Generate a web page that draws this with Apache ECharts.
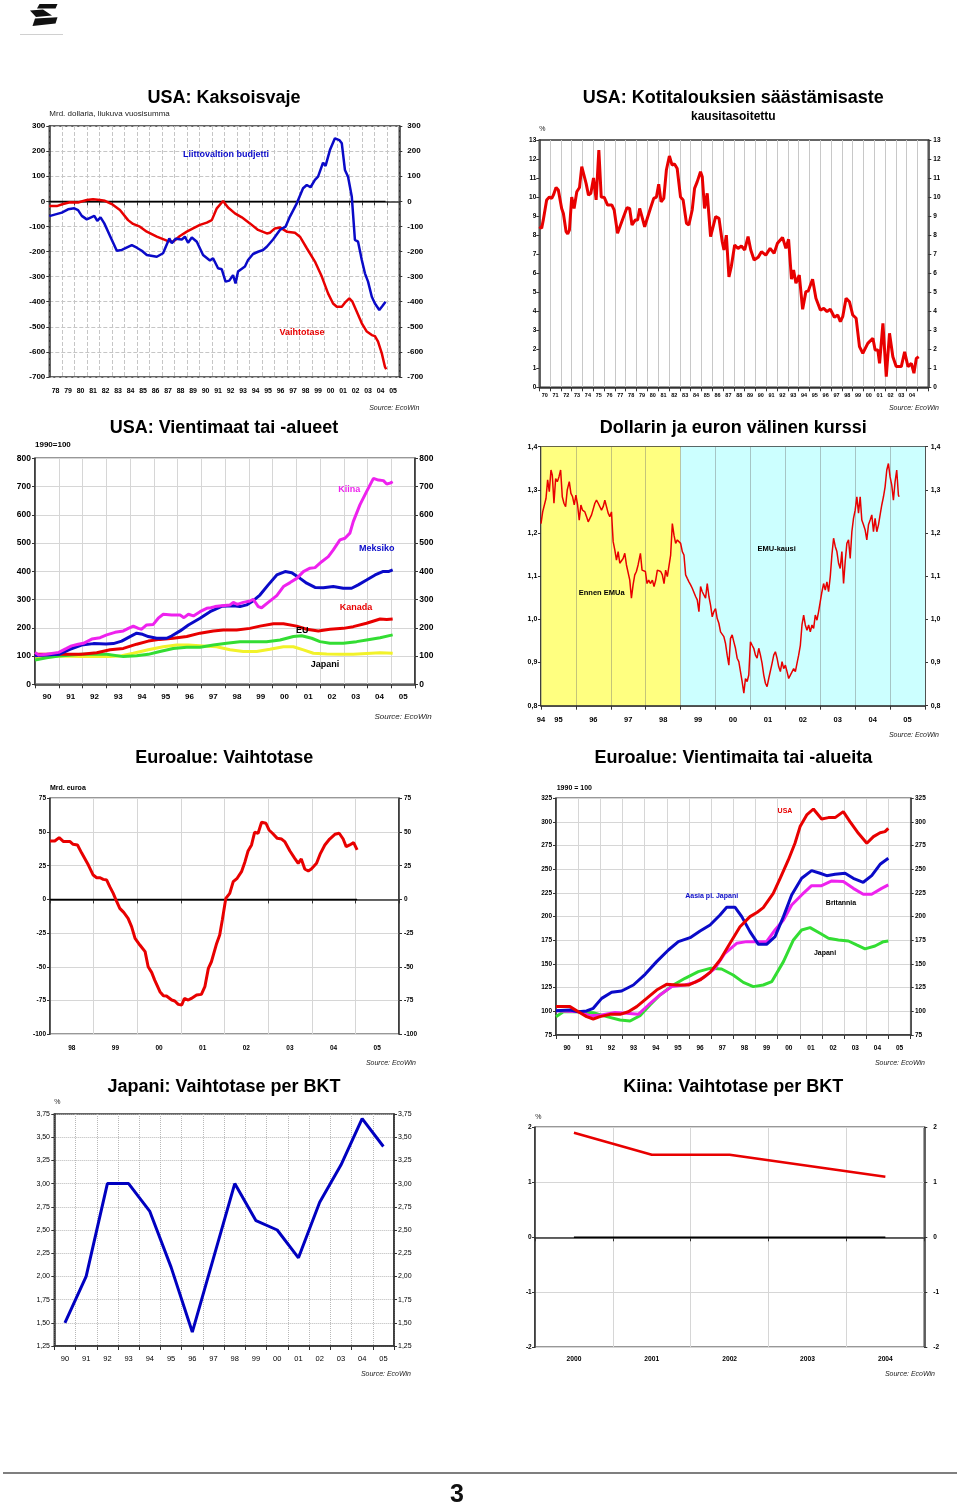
<!DOCTYPE html>
<html><head><meta charset="utf-8">
<script src="https://cdn.jsdelivr.net/npm/echarts@6/dist/echarts.min.js"></script>
<style>html,body{margin:0;padding:0;background:#fff}#c{width:960px;height:1508px}</style>
</head><body><div id="c"></div>
<script>
// ---------- DATA ----------
// Chart 1: USA: Kaksoisvaje (Mrd. USD)
const kaksXLabels = ['78','79','80','81','82','83','84','85','86','87','88','89','90','91','92','93','94','95','96','97','98','99','00','01','02','03','04','05'];
const usaBudget = [[1978.0,-59],[1979.0,-45],[1979.5,-32],[1980.0,-28],[1980.3,-35],[1980.6,-58],[1981.0,-72],[1981.6,-58],[1981.84,-78],[1982.1,-64],[1982.4,-88],[1982.85,-137],[1983.4,-197],[1983.8,-194],[1984.6,-175],[1985.0,-185],[1985.4,-197],[1985.8,-214],[1986.6,-221],[1987.1,-207],[1987.6,-148],[1987.8,-167],[1988.1,-149],[1988.6,-152],[1988.85,-141],[1989.1,-165],[1989.4,-144],[1989.8,-161],[1990.3,-214],[1990.85,-236],[1991.1,-227],[1991.5,-267],[1991.8,-271],[1992.1,-320],[1992.4,-316],[1992.7,-294],[1992.9,-327],[1993.1,-280],[1993.65,-260],[1993.9,-234],[1994.3,-210],[1994.7,-201],[1995.1,-194],[1995.4,-181],[1995.9,-152],[1996.45,-114],[1996.9,-101],[1997.25,-61],[1997.8,-8],[1998.3,52],[1998.6,65],[1998.9,56],[1999.25,85],[1999.5,98],[1999.9,154],[2000.1,141],[2000.45,204],[2000.85,251],[2001.2,244],[2001.4,231],[2001.65,125],[2001.9,98],[2002.2,18],[2002.45,-154],[2002.7,-161],[2003.0,-234],[2003.25,-287],[2003.5,-320],[2003.8,-380],[2004.05,-407],[2004.4,-433],[2004.65,-417],[2004.9,-400]];
const usaCurrentAccount = [[1978.0,-19],[1978.6,-19],[1979.1,-11],[1979.65,-4],[1980.3,-5],[1981.0,5],[1981.5,8],[1982.05,5],[1982.45,2],[1983.0,-11],[1983.65,-35],[1984.3,-75],[1984.7,-90],[1985.25,-101],[1985.8,-121],[1986.6,-141],[1987.4,-157],[1987.9,-161],[1988.45,-138],[1989.0,-121],[1989.5,-108],[1990.05,-94],[1990.6,-85],[1991.0,-75],[1991.4,-28],[1991.9,1],[1992.3,-25],[1992.85,-48],[1993.4,-64],[1994.05,-88],[1994.7,-114],[1995.4,-128],[1995.65,-125],[1996.05,-108],[1996.45,-104],[1997.0,-121],[1997.65,-125],[1998.05,-141],[1998.6,-187],[1999.25,-240],[1999.8,-300],[2000.3,-367],[2000.7,-407],[2001.0,-420],[2001.4,-420],[2001.65,-404],[2002.0,-387],[2002.25,-400],[2002.6,-440],[2003.0,-486],[2003.4,-519],[2003.8,-533],[2004.05,-537],[2004.3,-559],[2004.6,-606],[2004.85,-659],[2004.95,-669]];
const kaksZero = [[1978.0,0],[2004.9,0]];

// Chart 2: USA: Kotitalouksien säästämisaste (%)
const savXLabels = ['70','71','72','73','74','75','76','77','78','79','80','81','82','83','84','85','86','87','88','89','90','91','92','93','94','95','96','97','98','99','00','01','02','03','04',''];
const usaSavings = [[1970.00,8.44],[1970.22,8.36],[1970.37,8.8],[1970.68,9.85],[1970.93,10.0],[1971.15,9.93],[1971.30,10.1],[1971.55,10.5],[1971.76,10.37],[1972.07,9.4],[1972.23,9.14],[1972.48,8.18],[1972.63,8.06],[1972.79,8.27],[1973.00,10.0],[1973.22,9.4],[1973.47,10.28],[1973.72,10.5],[1973.93,11.6],[1974.09,11.68],[1974.33,10.72],[1974.55,10.1],[1974.77,10.2],[1975.02,11.0],[1975.26,9.85],[1975.51,12.47],[1975.73,10.0],[1976.01,9.98],[1976.32,9.58],[1976.72,9.58],[1976.93,9.32],[1977.24,8.1],[1977.40,8.18],[1977.80,8.97],[1978.11,9.44],[1978.36,9.4],[1978.58,8.53],[1978.89,8.8],[1979.10,8.8],[1979.29,9.4],[1979.50,8.97],[1979.75,8.44],[1980.28,9.4],[1980.59,9.93],[1980.84,10.0],[1981.05,10.67],[1981.27,9.75],[1981.52,9.93],[1981.76,11.42],[1982.04,12.16],[1982.29,11.68],[1982.51,11.74],[1982.76,11.5],[1983.07,10.0],[1983.31,9.85],[1983.62,8.62],[1983.84,8.53],[1984.15,9.32],[1984.37,10.46],[1984.61,10.8],[1984.92,11.33],[1985.08,11.07],[1985.29,9.4],[1985.54,10.2],[1985.85,7.92],[1986.01,8.27],[1986.32,8.97],[1986.63,8.88],[1986.93,7.65],[1987.09,7.22],[1987.31,8.0],[1987.55,5.8],[1987.77,6.35],[1988.08,7.48],[1988.39,7.3],[1988.70,7.43],[1989.01,7.22],[1989.32,7.92],[1989.57,7.22],[1989.88,6.69],[1990.25,6.83],[1990.56,7.13],[1990.96,6.95],[1991.36,7.3],[1991.73,7.04],[1992.04,7.57],[1992.51,7.88],[1992.82,7.3],[1993.07,7.78],[1993.34,5.68],[1993.53,6.17],[1993.75,5.47],[1994.06,5.9],[1994.37,4.1],[1994.67,5.03],[1994.89,5.06],[1995.29,5.68],[1995.60,4.68],[1996.01,4.06],[1996.32,4.15],[1996.63,3.98],[1996.93,4.1],[1997.31,3.68],[1997.62,3.8],[1997.86,3.45],[1998.08,3.71],[1998.39,4.68],[1998.70,4.5],[1999.01,3.8],[1999.32,3.63],[1999.63,2.14],[1999.94,1.79],[2000.40,2.31],[2000.87,2.58],[2001.08,1.96],[2001.33,1.96],[2001.49,1.26],[2001.80,3.36],[2002.11,0.56],[2002.41,2.84],[2002.72,1.61],[2003.03,1.09],[2003.50,1.09],[2003.81,1.87],[2004.12,1.09],[2004.43,1.26],[2004.67,0.74],[2004.89,1.52],[2005.11,1.61]];

// Chart 3: USA: Vientimaat tai -alueet (1990=100)
const yrs90 = ['90','91','92','93','94','95','96','97','98','99','00','01','02','03','04','05'];
const expChina = [[1990.0,113],[1990.14,104],[1990.49,106],[1991.0,113],[1991.33,127],[1991.54,136],[1991.82,142],[1992.04,145],[1992.39,160],[1992.74,165],[1993.02,175],[1993.37,184],[1993.72,189],[1993.93,198],[1994.14,206],[1994.35,198],[1994.49,195],[1994.70,210],[1994.98,212],[1995.19,234],[1995.40,248],[1995.75,245],[1996.11,245],[1996.27,236],[1996.46,248],[1996.67,242],[1996.95,257],[1997.23,269],[1997.40,271],[1997.58,275],[1997.86,278],[1998.21,281],[1998.35,290],[1998.52,283],[1998.77,290],[1999.05,295],[1999.19,301],[1999.40,275],[1999.54,271],[1999.82,290],[2000.18,314],[2000.46,346],[2000.74,360],[2001.02,375],[2001.30,399],[2001.58,411],[2001.79,413],[2002.07,434],[2002.35,452],[2002.56,476],[2002.84,511],[2003.05,517],[2003.26,535],[2003.40,576],[2003.68,635],[2003.96,682],[2004.25,729],[2004.46,723],[2004.67,721],[2004.81,709],[2004.95,712],[2005.06,717]];
const expMexico = [[1990.0,101],[1990.49,104],[1991.0,106],[1991.47,124],[1991.96,139],[1992.46,144],[1992.99,143],[1993.30,144],[1993.65,153],[1994.00,169],[1994.28,181],[1994.53,177],[1994.77,169],[1995.12,163],[1995.54,163],[1995.75,171],[1996.11,189],[1996.46,210],[1996.95,234],[1997.37,257],[1997.86,276],[1998.35,278],[1998.63,275],[1998.91,281],[1999.19,296],[1999.47,316],[1999.82,352],[2000.18,387],[2000.53,399],[2000.81,395],[2001.16,375],[2001.44,358],[2001.79,343],[2002.14,342],[2002.56,346],[2002.98,340],[2003.33,340],[2003.61,352],[2003.96,369],[2004.32,387],[2004.64,399],[2004.88,399],[2005.06,405]];
const expCanada = [[1990.0,106],[1991.0,106],[1991.96,106],[1992.6,112],[1993.16,122],[1993.72,127],[1994.28,142],[1994.77,153],[1995.26,159],[1995.82,163],[1996.39,169],[1996.95,181],[1997.51,189],[1997.93,192],[1998.49,192],[1999.05,198],[1999.47,206],[2000.04,214],[2000.46,214],[2001.02,206],[2001.44,195],[2001.93,189],[2002.42,195],[2002.98,198],[2003.40,204],[2003.96,216],[2004.53,231],[2004.81,229],[2005.06,231]];
const expEU = [[1990.0,86],[1990.49,94],[1991.0,100],[1991.96,106],[1993.02,106],[1993.72,98],[1994.28,101],[1994.77,106],[1995.26,116],[1995.82,127],[1996.39,131],[1996.95,131],[1997.51,139],[1998.07,145],[1998.63,151],[1999.19,151],[1999.75,151],[2000.32,157],[2000.88,169],[2001.23,172],[2001.65,163],[2002.0,151],[2002.42,145],[2002.98,145],[2003.54,151],[2003.96,157],[2004.53,165],[2005.06,175]];
const expJapan = [[1990.0,94],[1990.49,98],[1991.0,100],[1991.96,98],[1993.16,98],[1993.65,101],[1994.14,110],[1994.77,122],[1995.40,133],[1995.96,139],[1996.46,139],[1997.09,136],[1997.65,133],[1998.21,122],[1998.77,116],[1999.33,116],[1999.89,124],[2000.46,133],[2000.88,133],[2001.30,122],[2001.72,110],[2002.28,107],[2002.84,106],[2003.40,106],[2003.96,109],[2004.53,112],[2005.06,110]];

// Chart 4: Dollarin ja euron välinen kurssi
const fxXLabels = ['95','96','97','98','99','00','01','02','03','04','05'];
const fxRate = [[1995.000,1.222],[1995.048,1.249],[1995.095,1.246],[1995.143,1.280],[1995.190,1.323],[1995.238,1.296],[1995.286,1.346],[1995.324,1.334],[1995.371,1.269],[1995.419,1.326],[1995.467,1.319],[1995.514,1.330],[1995.562,1.346],[1995.610,1.284],[1995.657,1.269],[1995.705,1.261],[1995.752,1.300],[1995.810,1.319],[1995.857,1.292],[1995.905,1.284],[1995.952,1.265],[1996.000,1.288],[1996.048,1.265],[1996.095,1.230],[1996.143,1.265],[1996.190,1.253],[1996.257,1.249],[1996.305,1.238],[1996.352,1.226],[1996.400,1.230],[1996.448,1.242],[1996.495,1.246],[1996.543,1.269],[1996.590,1.276],[1996.638,1.269],[1996.686,1.265],[1996.733,1.253],[1996.781,1.261],[1996.829,1.276],[1996.876,1.280],[1996.924,1.246],[1996.971,1.238],[1997.019,1.249],[1997.067,1.180],[1997.114,1.161],[1997.162,1.137],[1997.210,1.157],[1997.257,1.130],[1997.305,1.134],[1997.352,1.141],[1997.400,1.153],[1997.448,1.126],[1997.495,1.130],[1997.543,1.091],[1997.590,1.049],[1997.638,1.080],[1997.686,1.103],[1997.733,1.111],[1997.781,1.126],[1997.848,1.153],[1997.895,1.114],[1997.943,1.111],[1997.990,1.111],[1998.038,1.083],[1998.086,1.091],[1998.133,1.083],[1998.190,1.091],[1998.238,1.076],[1998.286,1.091],[1998.333,1.114],[1998.381,1.118],[1998.429,1.111],[1998.476,1.103],[1998.524,1.083],[1998.571,1.114],[1998.619,1.099],[1998.667,1.095],[1998.714,1.149],[1998.762,1.222],[1998.810,1.195],[1998.857,1.176],[1998.905,1.184],[1998.952,1.188],[1999.000,1.176],[1999.048,1.157],[1999.095,1.149],[1999.143,1.103],[1999.190,1.095],[1999.238,1.087],[1999.286,1.080],[1999.333,1.072],[1999.381,1.068],[1999.429,1.053],[1999.476,1.045],[1999.524,1.018],[1999.571,1.076],[1999.619,1.064],[1999.667,1.068],[1999.714,1.049],[1999.762,1.083],[1999.810,1.053],[1999.857,1.033],[1999.905,1.006],[1999.952,1.018],[2000.000,1.025],[2000.048,1.002],[2000.095,0.991],[2000.143,0.971],[2000.190,0.971],[2000.238,0.960],[2000.286,0.944],[2000.333,0.917],[2000.381,0.894],[2000.429,0.956],[2000.476,0.964],[2000.524,0.948],[2000.571,0.933],[2000.619,0.910],[2000.667,0.902],[2000.714,0.879],[2000.762,0.856],[2000.810,0.829],[2000.857,0.863],[2000.905,0.856],[2000.952,0.871],[2001.000,0.948],[2001.048,0.940],[2001.095,0.933],[2001.143,0.917],[2001.190,0.910],[2001.238,0.933],[2001.286,0.917],[2001.333,0.898],[2001.381,0.871],[2001.429,0.852],[2001.476,0.844],[2001.524,0.863],[2001.571,0.860],[2001.619,0.898],[2001.667,0.917],[2001.714,0.925],[2001.762,0.910],[2001.810,0.890],[2001.857,0.879],[2001.905,0.902],[2001.952,0.886],[2002.000,0.894],[2002.048,0.879],[2002.095,0.863],[2002.143,0.871],[2002.190,0.867],[2002.238,0.886],[2002.286,0.879],[2002.333,0.898],[2002.381,0.917],[2002.429,0.940],[2002.476,0.987],[2002.524,1.010],[2002.571,0.987],[2002.619,0.975],[2002.667,0.987],[2002.714,0.971],[2002.762,0.987],[2002.810,0.979],[2002.857,1.010],[2002.905,0.998],[2002.952,1.018],[2003.000,1.041],[2003.048,1.064],[2003.095,1.083],[2003.143,1.068],[2003.190,1.087],[2003.238,1.064],[2003.286,1.099],[2003.333,1.149],[2003.381,1.188],[2003.429,1.169],[2003.476,1.157],[2003.524,1.130],[2003.571,1.118],[2003.619,1.157],[2003.667,1.083],[2003.714,1.134],[2003.762,1.176],[2003.810,1.184],[2003.857,1.141],[2003.905,1.203],[2003.952,1.234],[2004.000,1.253],[2004.048,1.284],[2004.095,1.246],[2004.143,1.284],[2004.190,1.230],[2004.238,1.219],[2004.286,1.207],[2004.333,1.184],[2004.381,1.219],[2004.429,1.230],[2004.476,1.242],[2004.524,1.203],[2004.571,1.234],[2004.619,1.203],[2004.667,1.219],[2004.714,1.242],[2004.762,1.265],[2004.810,1.284],[2004.857,1.307],[2004.905,1.346],[2004.952,1.361],[2005.000,1.330],[2005.048,1.311],[2005.095,1.276],[2005.143,1.319],[2005.190,1.346],[2005.238,1.288],[2005.257,1.284]];
const emuStart = 1999;

// Chart 5: Euroalue: Vaihtotase (Mrd. euroa)
const euXLabels = ['98','99','00','01','02','03','04','05'];
const euroCA = [[1998.00,43.3],[1998.11,43.3],[1998.21,45.8],[1998.31,42.9],[1998.46,42.9],[1998.53,40.9],[1998.63,40.4],[1998.73,34.2],[1998.88,25.5],[1998.99,18.1],[1999.07,16.1],[1999.15,16.1],[1999.22,14.9],[1999.30,14.4],[1999.37,9.5],[1999.45,4.5],[1999.53,-1.7],[1999.60,-6.6],[1999.69,-9.6],[1999.79,-14.0],[1999.87,-20.2],[1999.95,-28.9],[2000.06,-33.8],[2000.18,-38.7],[2000.25,-49.9],[2000.33,-54.1],[2000.40,-59.8],[2000.52,-68.4],[2000.60,-71.4],[2000.67,-71.6],[2000.79,-74.6],[2000.86,-75.3],[2000.94,-77.8],[2001.02,-78.3],[2001.08,-73.4],[2001.17,-74.6],[2001.24,-73.4],[2001.36,-70.9],[2001.47,-70.4],[2001.55,-64.7],[2001.63,-51.1],[2001.70,-46.2],[2001.82,-32.6],[2001.89,-26.4],[2001.95,-15.3],[2002.03,0.8],[2002.12,4.5],[2002.20,13.2],[2002.29,15.7],[2002.39,20.6],[2002.47,28.0],[2002.54,35.9],[2002.62,40.4],[2002.69,49.8],[2002.77,49.1],[2002.85,57.2],[2002.95,56.5],[2003.02,51.5],[2003.10,49.1],[2003.21,45.3],[2003.31,44.8],[2003.38,42.9],[2003.50,35.9],[2003.61,30.5],[2003.69,26.8],[2003.76,30.0],[2003.84,22.6],[2003.92,21.1],[2003.99,22.6],[2004.11,26.8],[2004.20,34.2],[2004.30,40.4],[2004.41,44.8],[2004.53,48.3],[2004.63,49.1],[2004.72,44.8],[2004.79,39.1],[2004.87,40.4],[2004.96,42.1],[2005.04,36.7]];
const euroZero = [[1998.0,0],[2005.04,0]];

// Chart 6: Euroalue: Vientimaita tai -alueita (1990 = 100)
const euExpUSA = [[1990.0,105],[1990.63,105],[1991.01,99.6],[1991.38,94.4],[1991.68,91.9],[1991.98,94.4],[1992.44,96.8],[1992.89,96.8],[1993.26,99.6],[1993.64,105],[1994.09,113.7],[1994.54,122.5],[1994.99,128.5],[1995.44,127.8],[1995.97,127.8],[1996.50,133.1],[1996.95,141.2],[1997.40,154.2],[1997.85,171.8],[1998.30,189.4],[1998.75,200],[1999.08,204.6],[1999.35,209.5],[1999.80,224.6],[2000.11,240.5],[2000.48,259.9],[2000.78,277.5],[2001.01,295.1],[2001.31,307.4],[2001.61,313.7],[2001.98,303.2],[2002.29,304.6],[2002.59,304.6],[2002.96,310.9],[2003.26,300.4],[2003.64,288.0],[2004.02,277.5],[2004.32,284.5],[2004.62,288.7],[2004.84,289.8],[2004.99,293.3]];
const euExpAsia = [[1990.0,100.7],[1990.63,101.4],[1991.01,99.6],[1991.38,100.4],[1991.68,103.2],[1992.06,113.7],[1992.51,120.1],[1992.96,121.5],[1993.49,127.8],[1994.02,139.1],[1994.54,152.5],[1995.07,164.8],[1995.52,173.6],[1996.05,177.8],[1996.50,184.9],[1996.95,191.2],[1997.40,201.8],[1997.70,209.9],[1998.08,209.9],[1998.38,200],[1998.75,184.2],[1999.13,170.8],[1999.50,170.8],[1999.88,178.9],[2000.26,200],[2000.63,222.9],[2001.08,240.5],[2001.53,248.6],[2001.91,245.8],[2002.21,243.3],[2002.59,244.7],[2003.04,245.8],[2003.41,240.5],[2003.86,236.3],[2004.24,243.3],[2004.62,255.3],[2004.99,261.6]];
const euExpUK = [[1990.0,100.7],[1991.01,99.6],[1991.53,95.4],[1992.06,96.1],[1992.66,98.9],[1993.19,97.9],[1993.71,96.8],[1994.17,106.7],[1994.69,117.3],[1995.22,126.1],[1995.82,127.8],[1996.27,130.6],[1996.72,136.6],[1997.17,145.4],[1997.62,161.3],[1998.15,171.8],[1998.60,173.6],[1999.05,173.6],[1999.50,173.6],[1999.88,185.9],[2000.26,196.5],[2000.63,212.3],[2001.08,222.9],[2001.53,232.7],[2001.98,232.7],[2002.44,237.7],[2002.96,237.0],[2003.41,229.9],[2003.86,223.6],[2004.24,223.6],[2004.69,229.9],[2004.99,233.5]];
const euExpJapan = [[1990.0,94.4],[1990.33,99.6],[1991.01,99.6],[1991.68,98.6],[1992.29,94.4],[1992.89,90.8],[1993.34,89.8],[1993.79,95.4],[1994.24,106.7],[1994.69,117.3],[1995.29,127.8],[1995.82,134.9],[1996.42,141.9],[1996.95,145.4],[1997.47,144.7],[1997.99,138.4],[1998.45,130.6],[1998.90,126.1],[1999.35,127.8],[1999.73,131.3],[2000.26,152.5],[2000.71,175.4],[2001.08,185.9],[2001.46,188.4],[2001.91,182.4],[2002.29,177.1],[2002.74,175.4],[2003.19,174.3],[2003.56,170.1],[2003.94,165.9],[2004.39,169.0],[2004.77,173.6],[2004.99,174.3]];

// Chart 7: Japani: Vaihtotase per BKT (%)
const japanCAgdp = [1.5,2.0,3.0,3.0,2.7,2.1,1.4,2.2,3.0,2.6,2.5,2.2,2.8,3.2,3.7,3.4];

// Chart 8: Kiina: Vaihtotase per BKT (%)
const chinaYears = ['2000','2001','2002','2003','2004'];
const chinaCAgdp = [1.9,1.5,1.5,1.3,1.1];
const chinaZero = [0,0,0,0,0];

// ---------- BUILD ----------
const FF = '"Liberation Sans", Arial, Helvetica, sans-serif';
const RED = '#e80000', BLUE = '#0a0ac8', MAG = '#ee22ee', GREEN = '#33dd33', YEL = '#f2f22a', BLK = '#000';
const grids = [], xAxes = [], yAxes = [], series = [], graphics = [];

function lab(size, bold) { return {fontSize: size, fontWeight: bold ? 'bold' : 'normal', color: '#000', fontFamily: FF}; }

function addChart(c) {
  const g = grids.length;
  grids.push({left: c.box[0], top: c.box[1], width: c.box[2], height: c.box[3], show: true,
    borderColor: '#333', borderWidth: 1.5, backgroundColor: 'rgba(0,0,0,0)', containLabel: false, outerBoundsMode: 'none'});
  const catIdx = xAxes.length;
  xAxes.push({type: 'category', gridIndex: g, position: 'bottom', data: c.cats, boundaryGap: true, z: c.catZ || 0,
    axisLine: {show: true, lineStyle: {color: '#333', width: 1.5}},
    axisTick: {show: true, interval: 0, length: 4, lineStyle: {color: '#333', width: 1}},
    axisLabel: Object.assign({interval: 0, margin: c.xMargin}, lab(c.xFont, c.xBold)),
    splitLine: {show: !!c.vGrid, interval: 0, lineStyle: c.gridStyle}});
  let valIdx = catIdx;
  if (c.xRange) {
    valIdx = xAxes.length;
    const ax = {type: 'value', gridIndex: g, position: 'bottom', min: c.xRange[0], max: c.xRange[1], show: false};
    if (c.xValLabel) {
      Object.assign(ax, {show: true, interval: 1,
        axisLine: {show: false}, axisTick: {show: false}, splitLine: {show: false},
        axisLabel: Object.assign({margin: c.xMargin, showMinLabel: true, showMaxLabel: false, formatter: c.xValLabel}, lab(c.xFont, c.xBold))});
    }
    xAxes.push(ax);
  }
  const leftIdx = yAxes.length;
  const yAx = (pos, margin, split) => ({type: 'value', gridIndex: g, position: pos, min: c.y[0], max: c.y[1], interval: c.y[2],
    axisLine: {show: true, lineStyle: {color: '#333', width: 1.5}},
    axisTick: {show: true, length: 3, lineStyle: {color: '#333'}},
    axisLabel: Object.assign({margin: margin, showMinLabel: true, showMaxLabel: true, formatter: c.yFmt || (v => String(v))}, lab(c.yFont, c.yBold)),
    splitLine: {show: split, lineStyle: c.gridStyle}});
  yAxes.push(yAx('left', c.yMargin[0], !!c.hGrid));
  yAxes.push(yAx('right', c.yMargin[1], false));
  c.series.forEach(s => series.push(Object.assign({type: 'line', xAxisIndex: s.cat ? catIdx : valIdx, yAxisIndex: leftIdx,
    showSymbol: false, symbol: 'none', silent: true, animation: false, data: s.data,
    lineStyle: {color: s.color, width: s.width}, itemStyle: {color: s.color}, z: s.z || 3}, s.extra || {})));
}

function txt(x, y, text, font, color, align) {
  graphics.push({type: 'text', x: x, y: y, silent: true, z: 10,
    style: {text: text, font: font, fill: color || '#000', textAlign: align || 'center', textVerticalAlign: 'middle', align: align || 'center', verticalAlign: 'middle'}});
}

const gDash = {color: '#c6c6c6', type: 'dashed', width: 1};
const gSolid = {color: '#d6d6d6', type: 'solid', width: 1};

// 1
addChart({box: [49.3, 126, 350, 251], cats: kaksXLabels, xRange: [1978, 2006], y: [-700, 300, 100],
  xFont: 7, xBold: true, xMargin: 11, yFont: 8, yBold: true, yMargin: [4, 8], vGrid: true, hGrid: true, gridStyle: gDash,
  series: [{data: kaksZero, color: BLK, width: 1.3, z: 2}, {data: usaCurrentAccount, color: RED, width: 2.5}, {data: usaBudget, color: BLUE, width: 2.5}]});
// 2
addChart({box: [539.3, 140, 389, 247.3], cats: savXLabels, xRange: [1970, 2006], y: [0, 13, 1],
  xFont: 5.5, xBold: true, xMargin: 5, yFont: 6.5, yBold: true, yMargin: [3, 5], vGrid: true, hGrid: false, gridStyle: {color: '#c8c8c8', width: 1},
  series: [{data: usaSavings, color: RED, width: 3}]});
// 3
addChart({box: [35, 458.3, 380, 226], cats: yrs90, xRange: [1990, 2006], y: [0, 800, 100],
  xFont: 8, xBold: true, xMargin: 8, yFont: 8.5, yBold: true, yMargin: [4, 4.3], vGrid: true, hGrid: true, gridStyle: gSolid,
  series: [{data: expJapan, color: YEL, width: 3}, {data: expEU, color: GREEN, width: 3}, {data: expCanada, color: RED, width: 3},
           {data: expMexico, color: BLUE, width: 3}, {data: expChina, color: MAG, width: 3}]});
// 4
addChart({box: [541, 446.7, 384, 259], cats: fxXLabels, xRange: [1995, 2006], xValLabel: v => (v === 1995 ? '94' : ''), catZ: 1.5,
  y: [0.8, 1.4, 0.1], yFmt: v => v.toFixed(1).replace('.', ','),
  xFont: 7.5, xBold: true, xMargin: 10, yFont: 7, yBold: true, yMargin: [3.7, 5.7], vGrid: true, hGrid: false, gridStyle: {color: 'rgba(110,110,110,0.4)', width: 1},
  series: [{data: fxRate, color: RED, width: 1.5, extra: {markArea: {silent: true, z: 1, itemStyle: {opacity: 1},
    data: [[{xAxis: 1995, itemStyle: {color: '#ffff80'}}, {xAxis: emuStart}], [{xAxis: emuStart, itemStyle: {color: '#ccffff'}}, {xAxis: 2006}]]}}}]});
// 5
addChart({box: [50, 798.3, 349, 236], cats: euXLabels, xRange: [1998, 2006], y: [-100, 75, 25],
  xFont: 6.5, xBold: true, xMargin: 10, yFont: 6.5, yBold: true, yMargin: [4, 5], vGrid: true, hGrid: true, gridStyle: gSolid,
  series: [{data: euroZero, color: BLK, width: 1.5, z: 2}, {data: euroCA, color: RED, width: 3}]});
// 6
addChart({box: [556, 798.3, 354.7, 236.7], cats: yrs90, xRange: [1990, 2006], y: [75, 325, 25],
  xFont: 6.5, xBold: true, xMargin: 9.5, yFont: 6.5, yBold: true, yMargin: [4, 4.3], vGrid: true, hGrid: true, gridStyle: gSolid,
  series: [{data: euExpJapan, color: GREEN, width: 3}, {data: euExpUK, color: MAG, width: 3}, {data: euExpAsia, color: BLUE, width: 3}, {data: euExpUSA, color: RED, width: 3}]});
// 7
addChart({box: [54.3, 1114, 339.7, 232], cats: yrs90, y: [1.25, 3.75, 0.25], yFmt: v => v.toFixed(2).replace('.', ','),
  xFont: 7.5, xBold: false, xMargin: 8.5, yFont: 7, yBold: false, yMargin: [4.3, 4], vGrid: true, hGrid: true, gridStyle: {color: '#b8b8b8', type: 'dotted', width: 1},
  series: [{data: japanCAgdp, cat: true, color: '#0000c0', width: 3}]});
// 8
addChart({box: [535, 1127.3, 389.3, 220], cats: chinaYears, y: [-2, 2, 1],
  xFont: 6.7, xBold: true, xMargin: 8.5, yFont: 6.5, yBold: true, yMargin: [3.3, 9], vGrid: true, hGrid: true, gridStyle: gSolid,
  series: [{data: chinaZero, cat: true, color: BLK, width: 1.5, z: 2}, {data: chinaCAgdp, cat: true, color: RED, width: 2.5}]});

// ---------- TEXTS ----------
const T = 'bold 18px ' + FF;
txt(224, 98.3, 'USA: Kaksoisvaje', T);
txt(733.3, 98.3, 'USA: Kotitalouksien säästämisaste', T);
txt(733.3, 116.7, 'kausitasoitettu', 'bold 12px ' + FF);
txt(224, 427.7, 'USA: Vientimaat tai -alueet', T);
txt(733.3, 427.7, 'Dollarin ja euron välinen kurssi', T);
txt(224.3, 757.7, 'Euroalue: Vaihtotase', T);
txt(733.3, 757.7, 'Euroalue: Vientimaita tai -alueita', T);
txt(224, 1086.7, 'Japani: Vaihtotase per BKT', T);
txt(733.3, 1086.7, 'Kiina: Vaihtotase per BKT', T);

txt(49.3, 114, 'Mrd. dollaria, liukuva vuosisumma', '8px ' + FF, '#222', 'left');
txt(542.3, 129.3, '%', '7px ' + FF, '#222');
txt(35, 444.3, '1990=100', 'bold 8px ' + FF, '#000', 'left');
txt(50, 787.7, 'Mrd. euroa', 'bold 7px ' + FF, '#000', 'left');
txt(556.7, 787.7, '1990 = 100', 'bold 7px ' + FF, '#000', 'left');
txt(57.3, 1102.3, '%', '7px ' + FF, '#222');
txt(538.3, 1117.3, '%', '7px ' + FF, '#222');

const L9 = 'bold 9px ' + FF, L7 = 'bold 7px ' + FF;
txt(226, 154.7, 'Liittovaltion budjetti', L9, BLUE);
txt(302, 332.3, 'Vaihtotase', L9, RED);
txt(349.3, 490, 'Kiina', L9, MAG);
txt(376.7, 548.3, 'Meksiko', L9, BLUE);
txt(356, 607.3, 'Kanada', L9, RED);
txt(302.3, 631, 'EU', L9, BLK);
txt(325, 664.3, 'Japani', L9, BLK);
txt(776.7, 549.3, 'EMU-kausi', 'bold 7.5px ' + FF, BLK);
txt(601.7, 593.3, 'Ennen EMUa', 'bold 7.5px ' + FF, BLK);
txt(785, 811, 'USA', L7, RED);
txt(711.7, 896, 'Aasia pl. Japani', L7, BLUE);
txt(841, 903.3, 'Britannia', L7, BLK);
txt(825, 952.7, 'Japani', L7, BLK);

const S = 'italic 7px ' + FF;
[[419.3, 408.3], [939, 408.3], [939, 735], [416, 1062.7], [925, 1062.7], [411, 1374.3], [935, 1374.3]].forEach(p => txt(p[0], p[1], 'Source: EcoWin', S, '#222', 'right'));
txt(431.7, 716.7, 'Source: EcoWin', 'italic 8px ' + FF, '#222', 'right');

txt(457, 1495, '3', 'bold 25px ' + FF, '#111');

// page rules and logo
graphics.push({type: 'line', silent: true, shape: {x1: 3, y1: 1473, x2: 957, y2: 1473}, style: {stroke: '#555', lineWidth: 1.5}});
graphics.push({type: 'line', silent: true, shape: {x1: 20, y1: 34.5, x2: 63, y2: 34.5}, style: {stroke: '#d0d0d0', lineWidth: 1}});
graphics.push({type: 'polygon', silent: true, shape: {points: [[39.5, 4], [57.5, 4], [55.5, 8.5], [37, 8.5]]}, style: {fill: '#111'}});
graphics.push({type: 'polygon', silent: true, shape: {points: [[30, 10.5], [43, 9.5], [52, 15.5], [36, 17]]}, style: {fill: '#111'}});
graphics.push({type: 'polygon', silent: true, shape: {points: [[35, 18.5], [57.5, 17.3], [55.5, 23.5], [32.5, 26]]}, style: {fill: '#111'}});

const chart = echarts.init(document.getElementById('c'), null, {renderer: 'canvas', width: 960, height: 1508});
chart.setOption({animation: false, backgroundColor: '#fff', grid: grids, xAxis: xAxes, yAxis: yAxes, series: series, graphic: graphics});
</script></body></html>
